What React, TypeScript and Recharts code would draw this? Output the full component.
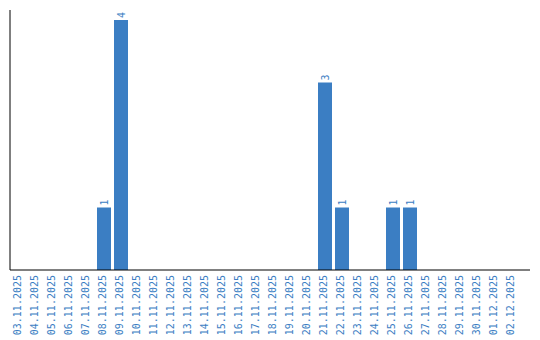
import React from 'react';
import { BarChart, Bar, XAxis, YAxis, LabelList } from 'recharts';

const dates = [
  '03.11.2025', '04.11.2025', '05.11.2025', '06.11.2025', '07.11.2025',
  '08.11.2025', '09.11.2025', '10.11.2025', '11.11.2025', '12.11.2025',
  '13.11.2025', '14.11.2025', '15.11.2025', '16.11.2025', '17.11.2025',
  '18.11.2025', '19.11.2025', '20.11.2025', '21.11.2025', '22.11.2025',
  '23.11.2025', '24.11.2025', '25.11.2025', '26.11.2025', '27.11.2025',
  '28.11.2025', '29.11.2025', '30.11.2025', '01.12.2025', '02.12.2025',
];
const counts = [0, 0, 0, 0, 0, 1, 4, 0, 0, 0, 0, 0, 0, 0, 0, 0, 0, 0, 3, 1, 0, 0, 1, 1, 0, 0, 0, 0, 0, 0];

const BLUE = '#3b7ec3';
const FONT = '"DejaVu Sans Mono", monospace';

const chartData = dates.map((d, i) => ({ date: d, count: counts[i] }));

const DateTick = ({ x, y, payload }: any) => (
  <text
    transform={`translate(${x - 1},${y - 3}) rotate(-90)`}
    textAnchor="end"
    dominantBaseline="central"
    fill={BLUE}
    fontSize={10}
    fontFamily={FONT}
  >
    {payload.value}
  </text>
);

const ValueLabel = ({ x, y, width, value }: any) => {
  if (!value) return null;
  return (
    <text
      transform={`translate(${x + width / 2},${y - 2}) rotate(-90)`}
      textAnchor="start"
      dominantBaseline="central"
      fill={BLUE}
      fontSize={10}
      fontFamily={FONT}
    >
      {value}
    </text>
  );
};

export default function App() {
  return (
    <div style={{ position: 'absolute', left: 0, top: 0, background: '#fff' }}>
      <BarChart
        width={540}
        height={340}
        data={chartData}
        margin={{ top: 10, right: 10, left: 9, bottom: 0 }}
      >
        <XAxis
          dataKey="date"
          interval={0}
          height={70}
          padding={{ left: 0, right: 10 }}
          tickLine={false}
          axisLine={{ stroke: '#000' }}
          tick={<DateTick />}
        />
        <YAxis
          width={1}
          domain={[0, 4.16]}
          tick={false}
          tickLine={false}
          axisLine={{ stroke: '#000' }}
        />
        <Bar dataKey="count" fill={BLUE} barSize={14} isAnimationActive={false}>
          <LabelList dataKey="count" content={<ValueLabel />} />
        </Bar>
      </BarChart>
    </div>
  );
}
